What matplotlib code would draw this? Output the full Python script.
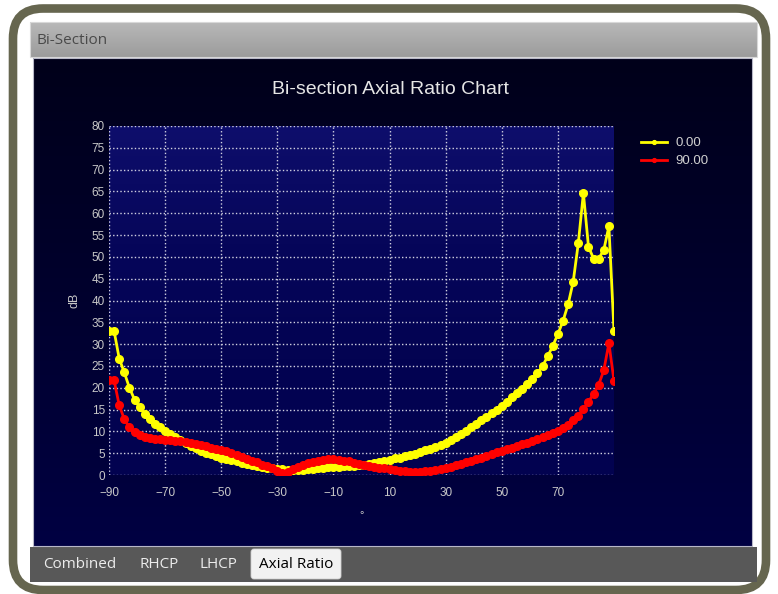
import numpy as np
import matplotlib
matplotlib.use("Agg")
import matplotlib.pyplot as plt
from matplotlib.colors import LinearSegmentedColormap
from matplotlib.patches import FancyBboxPatch, Rectangle

W, H = 778, 594

# angle sweep of the bi-section cut: 100 samples from -90 to 90 deg
ANGLE_START, ANGLE_STOP, N_SAMPLES = -90, 90, 100
angles = np.linspace(ANGLE_START, ANGLE_STOP, N_SAMPLES)

# axial ratio (dB)
ar_phi0 = [
    33.0, 33.0, 26.7, 23.5, 20.0, 17.3, 15.5, 14.0, 12.9, 11.8,
    10.9, 10.1, 9.4, 8.7, 8.0, 7.3, 6.7, 6.1, 5.5, 5.1,
    4.7, 4.3, 4.0, 3.7, 3.4, 3.1, 2.8, 2.5, 2.3, 2.1,
    1.9, 1.7, 1.5, 1.4, 1.3, 1.2, 1.1, 1.1, 1.2, 1.3,
    1.4, 1.5, 1.6, 1.8, 1.9, 1.9, 2.0, 2.0, 2.1, 2.2,
    2.4, 2.6, 2.8, 3.0, 3.2, 3.5, 3.8, 4.0, 4.3, 4.6,
    4.9, 5.3, 5.7, 6.0, 6.4, 6.9, 7.4, 8.0, 8.7, 9.4,
    10.1, 10.9, 11.7, 12.5, 13.3, 14.1, 15.0, 15.9, 16.8, 17.8,
    18.8, 19.8, 20.9, 22.1, 23.3, 25.0, 27.2, 29.6, 32.3, 35.3,
    39.1, 44.3, 53.1, 64.6, 52.3, 49.6, 49.6, 51.6, 57.0, 33.0,
]
ar_phi90 = [
    21.7, 21.7, 16.0, 12.8, 10.9, 9.8, 9.2, 8.8, 8.5, 8.3,
    8.2, 8.1, 8.0, 7.9, 7.7, 7.5, 7.3, 7.1, 6.9, 6.6,
    6.3, 6.0, 5.7, 5.4, 5.0, 4.6, 4.2, 3.7, 3.3, 2.9,
    2.4, 2.0, 1.5, 1.0, 0.4, 0.8, 1.3, 1.8, 2.3, 2.7,
    3.0, 3.3, 3.5, 3.6, 3.6, 3.5, 3.3, 3.1, 2.8, 2.5,
    2.2, 2.0, 1.8, 1.6, 1.5, 1.3, 1.1, 1.0, 0.9, 0.8,
    0.8, 0.8, 0.9, 1.0, 1.2, 1.4, 1.6, 1.9, 2.2, 2.5,
    2.9, 3.3, 3.6, 4.0, 4.4, 4.8, 5.2, 5.6, 5.9, 6.3,
    6.6, 7.0, 7.4, 7.8, 8.2, 8.6, 9.1, 9.6, 10.2, 10.8,
    11.5, 12.5, 13.6, 15.2, 16.8, 18.6, 20.7, 24.0, 30.2, 21.6,
]
series_labels = ["0.00", "90.00"]
series_colors = ["#ffff00", "#ff0000"]
x_ticks = [-90, -70, -50, -30, -10, 10, 30, 50, 70]
y_ticks = list(range(0, 81, 5))
tab_names = ["Combined", "RHCP", "LHCP", "Axial Ratio"]
active_tab = "Axial Ratio"

narrow = ["Liberation Sans Narrow", "Liberation Sans", "DejaVu Sans"]
ui_font = ["Open Sans", "DejaVu Sans"]

fig = plt.figure(figsize=(W / 100, H / 100), dpi=100)
fig.patch.set_facecolor("white")

# full-figure canvas in pixel units for the window chrome
bg = fig.add_axes([0, 0, 1, 1])
bg.set_xlim(0, W)
bg.set_ylim(H, 0)
bg.axis("off")

# rounded olive frame
bg.add_patch(FancyBboxPatch((13, 8.5), 753, 581.5,
                            boxstyle="round,pad=0,rounding_size=30",
                            fc="white", ec="#66664f", lw=6.2))

# window title bar
bar = LinearSegmentedColormap.from_list("bar", ["#b8b8b8", "#9c9c9c"])
bg.imshow(np.linspace(0, 1, 50).reshape(-1, 1), cmap=bar, aspect="auto",
          extent=[30, 757, 57, 22], zorder=1)
bg.add_patch(Rectangle((30, 22), 727, 35, fc="none", ec="#d8d8d8", lw=0.8, zorder=2))
bg.text(37, 40, "Bi-Section", color="#4a4a4a", fontsize=11, family=ui_font,
        va="center", ha="left", zorder=3)

# dark chart panel
panel = LinearSegmentedColormap.from_list("panel", ["#00001a", "#00002e", "#000042"])
bg.imshow(np.linspace(0, 1, 100).reshape(-1, 1), cmap=panel, aspect="auto",
          extent=[33, 752, 546, 58], zorder=1)
bg.add_patch(Rectangle((33, 58), 719, 488, fc="none", ec="#b8b8c8", lw=0.8, zorder=2))

# tab strip
bg.add_patch(Rectangle((30, 547), 727, 35, fc="#585858", ec="none", zorder=1))
tab_x = [80, 159, 218, 296]
for name, cx in zip(tab_names, tab_x):
    if name == active_tab:
        bg.add_patch(FancyBboxPatch((251, 549), 90, 30,
                                    boxstyle="round,pad=0,rounding_size=3",
                                    fc="#f2f2f2", ec="#d0d0d0", lw=0.6, zorder=2))
        col = "black"
    else:
        col = "#ececec"
    bg.text(cx, 564, name, color=col, fontsize=11, family=ui_font,
            ha="center", va="center", zorder=3)

# chart texts
bg.text(391, 89, "Bi-section Axial Ratio Chart", color="#e6e6e6", fontsize=14,
        family=narrow, ha="center", va="center", zorder=3)
bg.text(75, 300, "dB", color="#c8c8c8", fontsize=9, family=narrow, rotation=90,
        ha="center", va="center", zorder=3)
bg.text(362, 515, "°", color="#c8c8c8", fontsize=8, family=narrow,
        ha="center", va="center", zorder=3)

# plot area
ax = fig.add_axes([109 / W, 1 - 475 / H, 505 / W, 349 / H])
ax.set_facecolor("none")
ax.set_xlim(-90, 90)
ax.set_ylim(0, 80)
plotbg = LinearSegmentedColormap.from_list("plotbg", ["#0e0e6c", "#06065a", "#030352", "#020250"])
ax.imshow(np.linspace(0, 1, 100).reshape(-1, 1), cmap=plotbg, aspect="auto",
          extent=[-90, 90, 0, 80], origin="upper", zorder=0)

ax.set_xticks(x_ticks)
ax.set_yticks(y_ticks)
ax.grid(True, color="#d0d0e0", linestyle=(0, (1, 1.6)), lw=1.0, zorder=1)
ax.tick_params(length=0, colors="#c8c8c8", labelsize=8.5)
ax.tick_params(axis="x", pad=9)
ax.tick_params(axis="y", pad=3)
for lab in ax.get_xticklabels() + ax.get_yticklabels():
    lab.set_family(narrow)
for s in ax.spines.values():
    s.set_visible(False)

lines = []
for vals, lab, col in zip([ar_phi0, ar_phi90], series_labels, series_colors):
    ln, = ax.plot(angles, vals, color=col, lw=2, marker="o", ms=5.5,
                  mec=col, mfc=col, label=lab, zorder=3)
    lines.append(ln)

leg = ax.legend(handles=lines, loc="upper left", bbox_to_anchor=(641, 137),
                bbox_transform=bg.transData, frameon=False, markerscale=0.5,
                handlelength=2.0, handletextpad=0.6, labelspacing=0.45,
                borderpad=0, borderaxespad=0,
                prop={"family": narrow, "size": 9.5})
for t in leg.get_texts():
    t.set_color("#d0d0d0")

fig.savefig("out.png", dpi=100, facecolor=fig.get_facecolor())
